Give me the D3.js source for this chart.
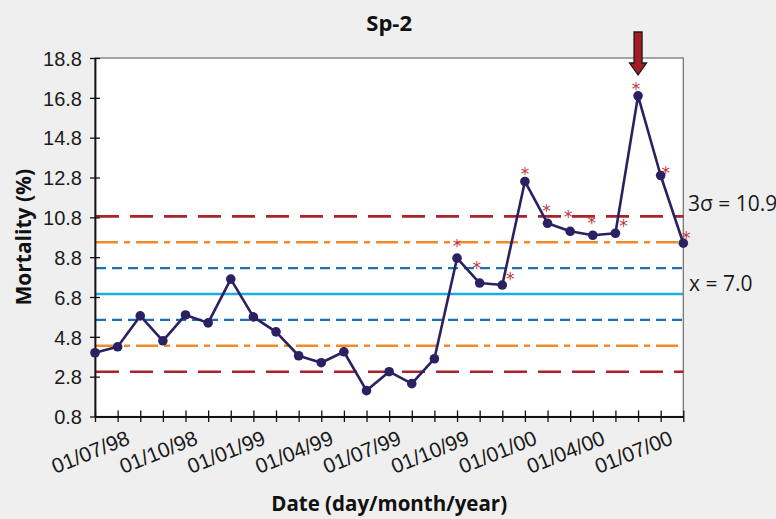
<!DOCTYPE html>
<html>
<head>
<meta charset="utf-8">
<script src="https://cdn.jsdelivr.net/npm/d3@7"></script>
<style>
  html, body { margin: 0; padding: 0; background: #efefef; }
  svg { display: block; font-family: "Open Sans", "Lato", sans-serif; }
</style>
</head>
<body>
<svg id="chart" width="776" height="519"></svg>
<script>
// ---- data ----
const dates = ["01/06/98","01/07/98","01/08/98","01/09/98","01/10/98","01/11/98","01/12/98",
  "01/01/99","01/02/99","01/03/99","01/04/99","01/05/99","01/06/99","01/07/99","01/08/99",
  "01/09/99","01/10/99","01/11/99","01/12/99","01/01/00","01/02/00","01/03/00","01/04/00",
  "01/05/00","01/06/00","01/07/00","01/08/00"];
const mortality = [4.0, 4.3, 5.85, 4.6, 5.9, 5.5, 7.7, 5.8, 5.05, 3.85, 3.5, 4.05, 2.1, 3.05,
  2.45, 3.7, 8.75, 7.5, 7.4, 12.6, 10.5, 10.1, 9.9, 10.0, 16.9, 12.9, 9.5];
const tickLabels = ["01/07/98","01/10/98","01/01/99","01/04/99","01/07/99","01/10/99","01/01/00","01/04/00","01/07/00"];
const yTicks = [0.8, 2.8, 4.8, 6.8, 8.8, 10.8, 12.8, 14.8, 16.8, 18.8];
const meanValue = 6.95;
const sigma = 1.3;
const flagged = ["01/10/99","01/11/99","01/12/99","01/01/00","01/02/00","01/03/00","01/04/00","01/05/00","01/06/00","01/07/00","01/08/00"];
const highlighted = "01/06/00";

// annotation offsets (pixels) for the asterisks, in flagged order
const starOffsets = [[0,-14],[-3,-17],[8,-8],[0,-9],[-1,-14],[-2,-16],[-1,-14],[8,-9],[-2,-9],[5,-5],[3,-7]];

// ---- layout ----
const svg = d3.select("#chart");
const m = { left: 95, right: 683.3, top: 58, bottom: 416.5 };

const x = d3.scalePoint().domain(dates).range([m.left, m.right]);
const y = d3.scaleLinear().domain([0.8, 18.8]).range([m.bottom, m.top]);

// plot background
svg.append("rect").attr("x", m.left).attr("y", m.top)
  .attr("width", m.right - m.left).attr("height", m.bottom - m.top)
  .attr("fill", "#ffffff").attr("stroke", "#6d6d6d").attr("stroke-width", 1.2);

// control lines
const refLines = [
  { v: meanValue + 3 * sigma, color: "#a8232a", dash: "23,11", w: 2.6 },
  { v: meanValue - 3 * sigma, color: "#a8232a", dash: "23,11", w: 2.6 },
  { v: meanValue + 2 * sigma, color: "#f28a27", dash: "22,6,6,6", w: 2.6 },
  { v: meanValue - 2 * sigma, color: "#f28a27", dash: "22,6,6,6", w: 2.6 },
  { v: meanValue + sigma, color: "#1f6db5", dash: "10,6", w: 2.4 },
  { v: meanValue - sigma, color: "#1f6db5", dash: "10,6", w: 2.4 },
  { v: meanValue, color: "#1aaee3", dash: null, w: 2.4 }
];
svg.append("g").selectAll("line").data(refLines).join("line")
  .attr("x1", m.left + 1).attr("x2", m.right)
  .attr("y1", d => y(d.v)).attr("y2", d => y(d.v))
  .attr("stroke", d => d.color).attr("stroke-width", d => d.w)
  .attr("stroke-dasharray", d => d.dash);

// axes
const yAxis = d3.axisLeft(y).tickValues(yTicks).tickFormat(d3.format(".1f")).tickSizeInner(5).tickSizeOuter(0).tickPadding(8);
const gy = svg.append("g").attr("transform", `translate(${m.left},0)`).call(yAxis);
gy.select(".domain").attr("stroke", "#111").attr("stroke-width", 1.8);
gy.selectAll(".tick line").attr("x2", 5).attr("x1", -5).attr("stroke", "#111").attr("stroke-width", 1.3);
gy.selectAll(".tick text").attr("font-size", 20).attr("fill", "#1a1a1a").attr("dy", "0.36em");

const xAxis = d3.axisBottom(x).tickSizeInner(6).tickSizeOuter(0).tickFormat(d => tickLabels.includes(d) ? d : "");
const gx = svg.append("g").attr("transform", `translate(0,${m.bottom})`).call(xAxis);
gx.select(".domain").attr("stroke", "#111").attr("stroke-width", 1.8);
gx.selectAll(".tick line").attr("y1", -6).attr("y2", 5.5).attr("stroke", "#111").attr("stroke-width", 1.3);
gx.selectAll(".tick text")
  .attr("font-size", 21).attr("fill", "#1a1a1a")
  .attr("text-anchor", "end")
  .attr("x", 0).attr("y", 0).attr("dy", 0)
  .attr("transform", "translate(13,27) rotate(-22)");

// data line
svg.append("path").datum(mortality)
  .attr("fill", "none").attr("stroke", "#2a2163").attr("stroke-width", 2.6)
  .attr("stroke-linejoin", "round")
  .attr("d", d3.line().x((d, i) => x(dates[i])).y(d => y(d)));

svg.append("g").selectAll("circle").data(mortality).join("circle")
  .attr("cx", (d, i) => x(dates[i])).attr("cy", d => y(d)).attr("r", 4.8)
  .attr("fill", "#2a2163");

// asterisks
svg.append("g").selectAll("text").data(flagged).join("text")
  .attr("x", (d, i) => x(d) + starOffsets[i][0])
  .attr("y", (d, i) => y(mortality[dates.indexOf(d)]) + starOffsets[i][1] + 8)
  .attr("text-anchor", "middle")
  .attr("font-size", 17).attr("font-family", "DejaVu Sans")
  .attr("fill", "#c0393f").text("*");

// arrow over highlighted point
const ax = x(highlighted);
const arrowPts = [[-4, 32], [4, 32], [4, 63], [8.5, 63], [0, 75], [-8.5, 63], [-4, 63]];
svg.append("polygon")
  .attr("points", arrowPts.map(p => [ax + p[0], p[1]].join(",")).join(" "))
  .attr("fill", "#a51d24").attr("stroke", "#1a1a1a").attr("stroke-width", 1.3)
  .attr("stroke-linejoin", "miter");

// labels
svg.append("text").attr("x", (m.left + m.right) / 2).attr("y", 30.5)
  .attr("text-anchor", "middle").attr("font-size", 22).attr("font-weight", "bold")
  .attr("fill", "#111").text("Sp-2");

svg.append("text").attr("x", 688).attr("y", y(meanValue + 3 * sigma) - 5)
  .attr("font-size", 21).attr("fill", "#1a1a1a").text("3σ = 10.9");
svg.append("text").attr("x", 689).attr("y", y(meanValue) - 3.5)
  .attr("font-size", 21).attr("fill", "#1a1a1a").text("x = 7.0");

svg.append("text").attr("transform", `translate(31,${(m.top + m.bottom) / 2}) rotate(-90)`)
  .attr("text-anchor", "middle").attr("font-size", 21).attr("font-weight", "bold")
  .attr("fill", "#111").text("Mortality (%)");

svg.append("text").attr("x", (m.left + m.right) / 2).attr("y", 511)
  .attr("text-anchor", "middle").attr("font-size", 20.5).attr("font-weight", "bold")
  .attr("fill", "#111").text("Date (day/month/year)");
</script>
</body>
</html>
